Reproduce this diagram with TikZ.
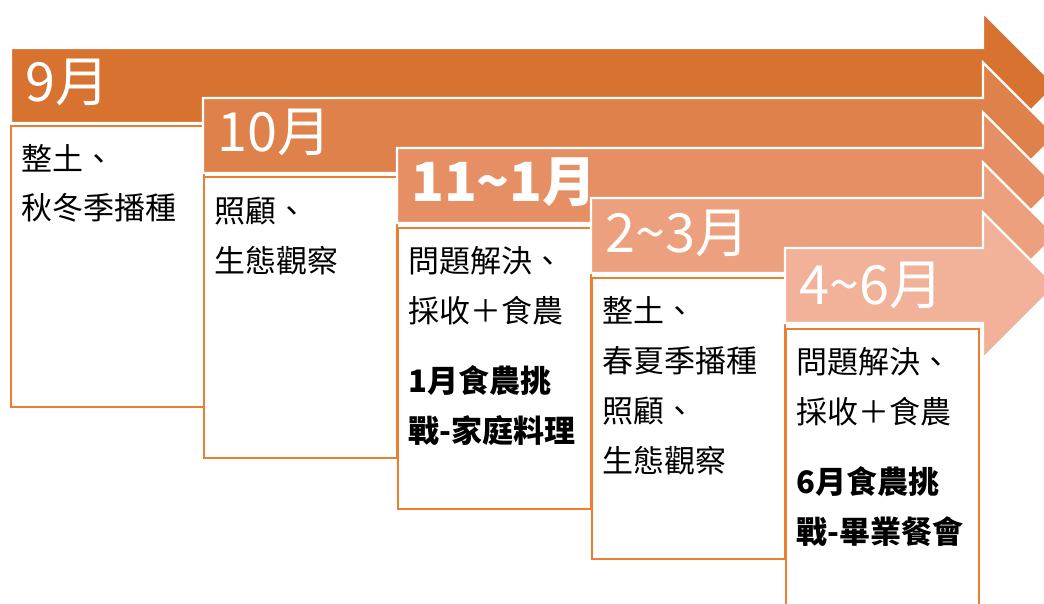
\documentclass[tikz,border=0pt]{standalone}
\usepackage{fontspec}
\setmainfont{Noto Sans CJK TC}
\usepackage{tikz}
\usetikzlibrary{positioning}
\definecolor{bandone}{RGB}{215,114,48}
\definecolor{bandtwo}{RGB}{223,129,74}
\definecolor{bandthree}{RGB}{230,143,100}
\definecolor{bandfour}{RGB}{236,160,126}
\definecolor{bandfive}{RGB}{242,178,153}
\definecolor{boxorange}{RGB}{237,125,49}

\begin{document}
\begin{tikzpicture}[x=1pt,y=-1pt,
    band/.style={fill=#1,draw=white,line width=2.4pt,line join=miter},
    card/.style={draw=boxorange,line width=2pt,fill=white,minimum width=193pt,
        minimum height=281pt,anchor=north west,inner sep=0pt},
    month/.style={text=white,font=\fontsize{54}{60}\selectfont,anchor=base west,inner sep=0pt},
    task/.style={font=\fontsize{31}{50}\selectfont,align=left,anchor=base west,inner sep=0pt}]
    \useasboundingbox (0,0) rectangle (1044,604);
    \clip (0,0) rectangle (1044,604);
    % September
    \draw[band=bandone] (11,48) -- (983,48) -- (983,12.5) -- (1056,85.5)
        -- (983,158.5) -- (983,123) -- (11,123) -- cycle;
    \node[month] (m1) at (25,102) {9月};
    \node[card] (c1) at (10,125) {};
    \node[task] (t1) at (21,220) {整土、\\秋冬季播種};
    % October
    \draw[band=bandtwo] (203,98) -- (983,98) -- (983,62.5) -- (1056,135.5)
        -- (983,208.5) -- (983,173) -- (203,173) -- cycle;
    \node[month] (m2) at (217,152) {10月};
    \node[card] (c2) at (203,176) {};
    \node[task] (t2) at (214,272) {照顧、\\生態觀察};
    % November to January
    \draw[band=bandthree] (397,148) -- (983,148) -- (983,112.5) -- (1056,185.5)
        -- (983,258.5) -- (983,223) -- (397,223) -- cycle;
    \node[month,font=\fontsize{54}{60}\selectfont\bfseries] (m3) at (411,202) {11\textasciitilde1月};
    \node[card] (c3) at (397,227) {};
    \node[task] (t3) at (408,442) {問題解決、\\採收＋食農\\[20pt]\textbf{1月食農挑}\\\textbf{戰-家庭料理}};
    % February to March
    \draw[band=bandfour] (591,198) -- (983,198) -- (983,162.5) -- (1056,235.5)
        -- (983,308.5) -- (983,273) -- (591,273) -- cycle;
    \node[month] (m4) at (605,252) {2\textasciitilde3月};
    \node[card] (c4) at (591,277) {};
    \node[task] (t4) at (602,472) {整土、\\春夏季播種\\照顧、\\生態觀察};
    % April to June
    \draw[band=bandfive] (785,248) -- (983,248) -- (983,212.5) -- (1056,285.5)
        -- (983,358.5) -- (983,323) -- (785,323) -- cycle;
    \node[month] (m5) at (799,304) {4\textasciitilde6月};
    \node[card] (c5) at (785,328) {};
    \node[task] (t5) at (796,543) {問題解決、\\採收＋食農\\[20pt]\textbf{6月食農挑}\\\textbf{戰-畢業餐會}};
\end{tikzpicture}
\end{document}
